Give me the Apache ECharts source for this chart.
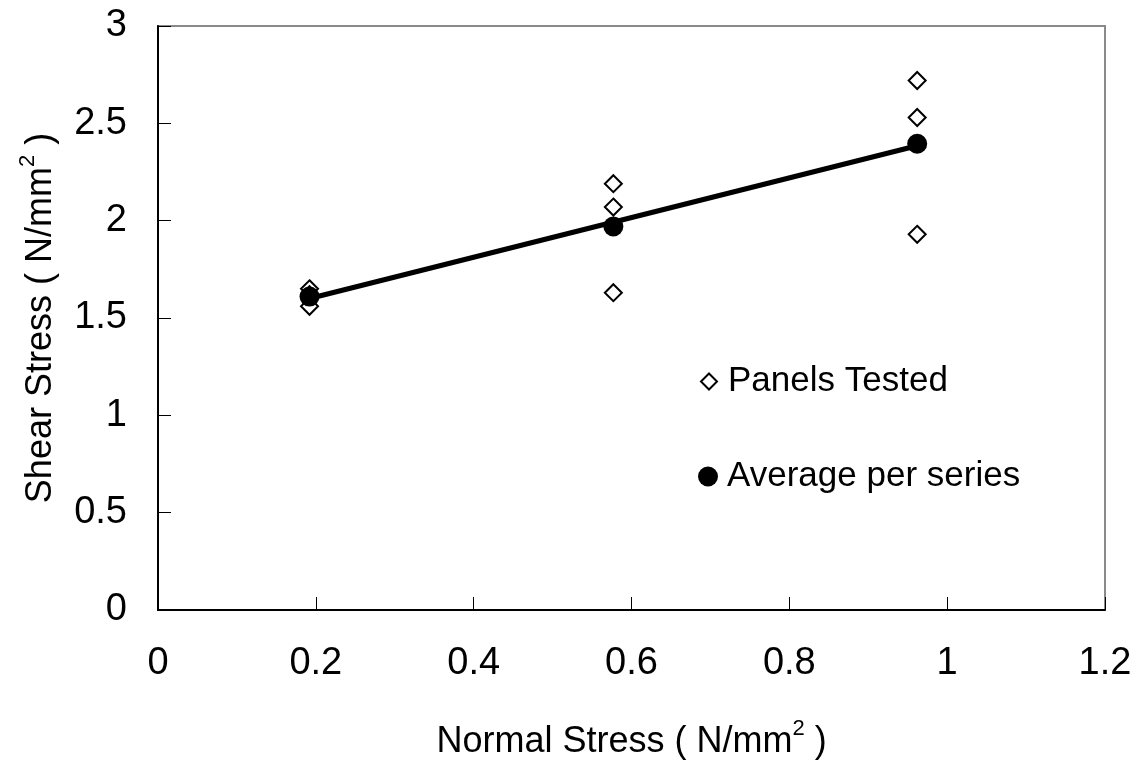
<!DOCTYPE html>
<html>
<head>
<meta charset="utf-8">
<script src="https://cdn.jsdelivr.net/npm/echarts@6/dist/echarts.min.js"></script>
<style>
html,body{margin:0;padding:0;background:#fff;}
#chart{width:1144px;height:765px;}
</style>
</head>
<body>
<div id="chart"></div>
<script>
// Normal stress (x) and shear stress (y) per tested panel
const panelX = [0.192, 0.192, 0.192, 0.577, 0.577, 0.577, 0.962, 0.962, 0.962];
const panelY = [1.65, 1.62, 1.56, 2.19, 2.07, 1.63, 2.72, 2.53, 1.93];
// Average per series
const avgX = [0.192, 0.577, 0.962];
const avgY = [1.61, 1.97, 2.395];
// Trend line end points
const trendX = [0.192, 0.962];
const trendY = [1.60, 2.385];
// Axis ticks
const xTicks = [0, 0.2, 0.4, 0.6, 0.8, 1, 1.2];
const yTicks = [0, 0.5, 1, 1.5, 2, 2.5, 3];

const FONT = '"Liberation Sans", Arial, sans-serif';
const chart = echarts.init(document.getElementById('chart'));
const zip = (a, b) => a.map((v, i) => [v, b[i]]);
const richName = {
  t: {fontFamily: FONT, fontSize: 36, color: '#000', verticalAlign: 'bottom', lineHeight: 42},
  s: {fontFamily: FONT, fontSize: 22, color: '#000', verticalAlign: 'top', lineHeight: 42, padding: [0, 0, 14, 0]}
};

chart.setOption({
  animation: false,
  backgroundColor: '#fff',
  grid: {
    left: 158, right: 39, top: 26, bottom: 155,
    show: true, borderColor: '#8a8a8a', borderWidth: 2, backgroundColor: '#fff'
  },
  legend: [{
    orient: 'vertical', left: 695, top: 359, itemGap: 62,
    itemWidth: 16, itemHeight: 16, icon: 'diamond',
    data: [{name: 'Panels Tested', itemStyle: {color: '#fff', borderColor: '#000', borderWidth: 2}}],
    textStyle: {fontFamily: FONT, fontSize: 35, color: '#000', padding: [0, 0, 0, 6]}
  }, {
    orient: 'vertical', left: 693, top: 454, itemWidth: 20, itemHeight: 20, icon: 'circle',
    data: ['Average per series'],
    textStyle: {fontFamily: FONT, fontSize: 35, color: '#000', padding: [0, 0, 0, 4]}
  }],
  xAxis: {
    type: 'value', min: xTicks[0], max: xTicks[xTicks.length - 1], interval: 0.2,
    splitLine: {show: false},
    axisLine: {lineStyle: {color: '#000', width: 2}},
    axisTick: {inside: true, length: 13, lineStyle: {color: '#000', width: 1}},
    axisLabel: {fontFamily: FONT, fontSize: 38, color: '#000', margin: 35},
    name: '{t|Normal Stress ( N/mm}{s|2}{t| )}',
    nameLocation: 'middle', nameGap: 108,
    nameTextStyle: {rich: richName}
  },
  yAxis: {
    type: 'value', min: yTicks[0], max: yTicks[yTicks.length - 1], interval: 0.5,
    splitLine: {show: false},
    axisLine: {lineStyle: {color: '#000', width: 2}},
    axisTick: {inside: true, length: 13, lineStyle: {color: '#000', width: 1}},
    axisLabel: {fontFamily: FONT, fontSize: 38, color: '#000', margin: 31},
    name: '{t|Shear Stress ( N/mm}{s|2}{t| )}',
    nameLocation: 'middle', nameGap: 99, nameRotate: 90,
    nameTextStyle: {rich: richName}
  },
  series: [{
    name: 'Panels Tested', type: 'scatter', symbol: 'diamond', symbolSize: 17, z: 2,
    itemStyle: {color: '#fff', borderColor: '#000', borderWidth: 2, opacity: 1},
    data: zip(panelX, panelY)
  }, {
    name: 'trend', type: 'line', symbol: 'none', z: 3,
    lineStyle: {color: '#000', width: 5},
    data: zip(trendX, trendY)
  }, {
    name: 'Average per series', type: 'scatter', symbol: 'circle', symbolSize: 20, z: 4,
    itemStyle: {color: '#000', opacity: 1},
    data: zip(avgX, avgY)
  }]
});
</script>
</body>
</html>
